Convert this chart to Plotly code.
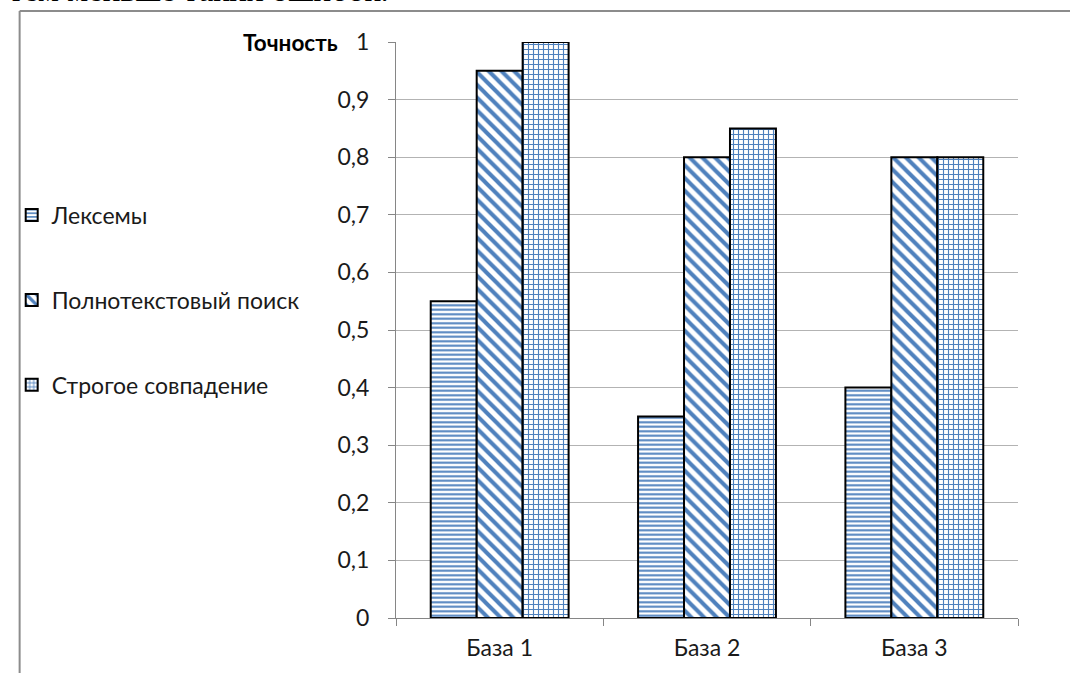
import plotly.graph_objects as go

categories = ["База 1", "База 2", "База 3"]
series_names = ["Лексемы", "Полнотекстовый поиск", "Строгое совпадение"]
lexemes = [0.55, 0.35, 0.40]
fulltext = [0.95, 0.80, 0.80]
strict = [1.00, 0.85, 0.80]
y_ticks = [0, 0.1, 0.2, 0.3, 0.4, 0.5, 0.6, 0.7, 0.8, 0.9, 1]

W, H = 1070, 673
L, R, T, B = 390, 52, 42, 53
pw, ph = W - L - R, H - T - B

def px_x(x):
    return (x - L) / pw

def px_y(y):
    return (H - B - y) / ph

BLUE = "#4F81BD"
FONT = "Lato"
TXT = "#1a1a1a"
patterns = ["-", "\\", "+"]
sizes = [4.5, 9, 5]
solid = [0.45, 0.45, 0.4]

fig = go.Figure()
for i, (name, vals) in enumerate(zip(series_names, [lexemes, fulltext, strict])):
    fig.add_trace(go.Bar(
        x=categories, y=vals, name=name, legendgroup=f"g{i}",
        marker=dict(color="white",
                    line=dict(color="black", width=2),
                    pattern=dict(shape=patterns[i], fgcolor=BLUE, bgcolor="white",
                                 fgopacity=1, size=sizes[i], solidity=solid[i],
                                 fillmode="replace")),
    ))

fig.update_layout(
    width=W, height=H,
    margin=dict(l=L, r=R, t=T, b=B),
    paper_bgcolor="white", plot_bgcolor="white",
    barmode="group", bargap=0.335, bargroupgap=0,
    separators=", ",
    font=dict(family=FONT, size=23, color=TXT),
    showlegend=True,
    legend=dict(x=px_x(2), xanchor="left", y=px_y(301), yanchor="middle",
                tracegroupgap=52, font=dict(size=23, color=TXT),
                bgcolor="rgba(0,0,0,0)"),
    xaxis=dict(type="category", showline=True, linecolor="#868686", linewidth=1,
               ticks="outside", tickson="boundaries", ticklen=7, tickcolor="#868686",
               ticklabelstandoff=9,
               showgrid=False, tickfont=dict(size=23, color=TXT)),
    yaxis=dict(range=[0, 1], tickvals=y_ticks, tickformat=".1~f",
               showline=True, linecolor="#868686", linewidth=1,
               ticks="outside", ticklen=7, tickcolor="#868686",
               ticklabelstandoff=14,
               showgrid=True, gridcolor="#B3B3B3", gridwidth=1,
               zeroline=False, tickfont=dict(size=23, color=TXT)),
    shapes=[
        dict(type="line", xref="paper", yref="paper", x0=px_x(10), x1=px_x(1075),
             y0=px_y(11), y1=px_y(11), line=dict(color="#8C8C8C", width=2)),
        dict(type="line", xref="paper", yref="paper", x0=px_x(10), x1=px_x(10),
             y0=px_y(11), y1=px_y(680), line=dict(color="#8C8C8C", width=2)),
    ],
    annotations=[
        dict(text="<b>Точность</b>", xref="paper", yref="paper", x=px_x(333), y=px_y(43),
             xanchor="right", yanchor="middle", showarrow=False,
             font=dict(family=FONT, size=22.5, color="black")),
        dict(text="тем меньше таких ошибок.", xref="paper", yref="paper", x=px_x(-3), y=px_y(-10),
             xanchor="left", yanchor="middle", showarrow=False,
             font=dict(family="Liberation Serif", size=33, color="black")),
    ],
)

fig.write_html("out.html", config={"displayModeBar": False},
               post_script="document.body.style.margin='0';document.body.style.overflow='hidden';")
